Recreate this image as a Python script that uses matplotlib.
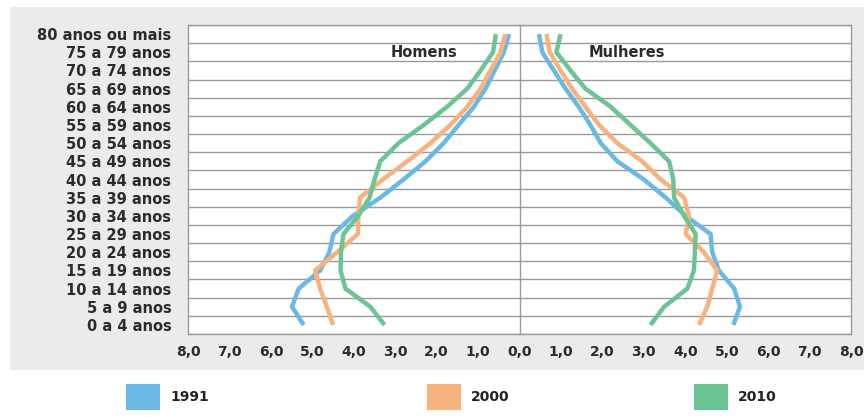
import matplotlib.pyplot as plt
from matplotlib.patches import Rectangle

# age groups, youngest first
ages = ["0 a 4 anos", "5 a 9 anos", "10 a 14 anos", "15 a 19 anos",
        "20 a 24 anos", "25 a 29 anos", "30 a 34 anos", "35 a 39 anos",
        "40 a 44 anos", "45 a 49 anos", "50 a 54 anos", "55 a 59 anos",
        "60 a 64 anos", "65 a 69 anos", "70 a 74 anos", "75 a 79 anos",
        "80 anos ou mais"]

# percent of population, youngest first
men_1991 = [5.21, 5.49, 5.33, 4.81, 4.59, 4.49, 4.02, 3.36, 2.80, 2.27,
            1.83, 1.47, 1.10, 0.82, 0.60, 0.38, 0.25]
men_2000 = [4.50, 4.65, 4.81, 4.93, 4.40, 3.90, 3.89, 3.85, 3.30, 2.71,
            2.15, 1.67, 1.26, 0.94, 0.70, 0.46, 0.34]
men_2010 = [3.26, 3.60, 4.20, 4.32, 4.31, 4.25, 3.89, 3.62, 3.50, 3.36,
            2.92, 2.31, 1.75, 1.26, 0.94, 0.64, 0.57]

women_1991 = [5.16, 5.32, 5.18, 4.81, 4.65, 4.61, 4.01, 3.53, 3.00, 2.36,
              1.96, 1.71, 1.43, 1.11, 0.83, 0.55, 0.47]
women_2000 = [4.33, 4.53, 4.65, 4.77, 4.45, 4.01, 4.09, 3.97, 3.41, 2.96,
              2.36, 1.92, 1.59, 1.27, 0.99, 0.73, 0.65]
women_2010 = [3.16, 3.49, 4.05, 4.21, 4.23, 4.25, 3.97, 3.73, 3.71, 3.61,
              3.16, 2.68, 2.20, 1.59, 1.23, 0.89, 0.99]

years = ["1991", "2000", "2010"]
colors = ["#6cb8e4", "#f7b27e", "#6cc393"]
ticks = [-8, -7, -6, -5, -4, -3, -2, -1, 0, 1, 2, 3, 4, 5, 6, 7, 8]

fig = plt.figure(figsize=(8.64, 4.17), dpi=100)

# gray panel behind the chart
fig.patches.append(Rectangle((0.0116, 0.113), 0.99, 0.87, transform=fig.transFigure,
                             facecolor="#ebebeb", edgecolor="none", zorder=-5))

ax = fig.add_axes([0.2176, 0.199, 0.7674, 0.741])
ax.set_zorder(2)
ax.set_facecolor("white")

y = list(range(len(ages)))
men = [men_1991, men_2000, men_2010]
women = [women_1991, women_2000, women_2010]
for m, w, c in zip(men, women, colors):
    ax.plot([-v for v in m], y, color=c, lw=3.2, solid_capstyle="butt", zorder=3)
    ax.plot(w, y, color=c, lw=3.2, solid_capstyle="butt", zorder=3)

# row separators and center line
for k in range(len(ages) + 1):
    ax.axhline(k - 0.5, color="#9a9a9a", lw=1.0, zorder=1)
ax.axvline(0, color="#9a9a9a", lw=1.0, zorder=1)

ax.set_xlim(-8, 8)
ax.set_ylim(-0.5, len(ages) - 0.5)
ax.set_yticks(y)
ax.set_yticklabels(ages)
ax.set_xticks(ticks)
ax.set_xticklabels([f"{abs(t):.1f}".replace(".", ",") for t in ticks])
ax.tick_params(length=0, labelcolor="#2b2b2b")
ax.tick_params(axis="y", pad=12, labelsize=10.5)
ax.tick_params(axis="x", pad=8, labelsize=10)
for lab in ax.get_xticklabels() + ax.get_yticklabels():
    lab.set_fontweight("bold")
    lab.set_family("DejaVu Sans")
for s in ax.spines.values():
    s.set_color("#9a9a9a")
    s.set_linewidth(1.0)

ax.text(-2.3, 15, "Homens", ha="center", va="center", fontsize=10.5,
        fontweight="bold", color="#2b2b2b", family="DejaVu Sans")
ax.text(2.6, 15, "Mulheres", ha="center", va="center", fontsize=10.5,
        fontweight="bold", color="#2b2b2b", family="DejaVu Sans")

# legend
leg_x = [126, 427, 694]
for lx, c, yr in zip(leg_x, colors, years):
    fig.patches.append(Rectangle((lx / 864, 1 - 410 / 417), 34 / 864, 26 / 417,
                                 transform=fig.transFigure, facecolor=c, edgecolor="none"))
    fig.text((lx + 44) / 864, 1 - 397 / 417, yr, ha="left", va="center", fontsize=10,
             fontweight="bold", color="#222222", family="DejaVu Sans")

fig.savefig("out.png", dpi=100)
